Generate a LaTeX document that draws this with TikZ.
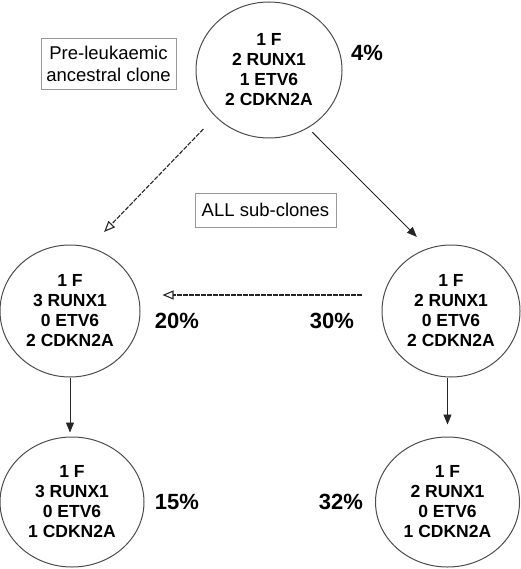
\documentclass[tikz,border=0pt]{standalone}
\usepackage{fontspec}
\setmainfont{Liberation Sans}
\usetikzlibrary{arrows.meta, positioning, calc, shapes.geometric}

\begin{document}
\begin{tikzpicture}[
    x=1pt, y=-1pt,
    % Styles for the clone circles, the notes and the arrows
    clone_node/.style={ellipse, draw=black!70, line width=1pt, inner sep=0pt, align=center, font=\fontsize{17.5}{20}\selectfont\bfseries},
    pct_lbl/.style={font=\fontsize{22}{24}\selectfont\bfseries, inner sep=0pt},
    note_box/.style={rectangle, draw=black!40, line width=0.8pt, align=center, inner sep=0pt, font=\fontsize{18.5}{22}\selectfont},
    solid_arr/.style={draw=black!85, line width=0.9pt, -{Triangle[length=10pt, width=8pt]}},
    open_arr/.style={draw=black!85, line width=1.1pt, dash pattern=on 4.5pt off 1.5pt, -{Triangle[open, length=11pt, width=9pt]}}
]
    \useasboundingbox (0,0) rectangle (520,569);

    % --- Clones ---
    \node[clone_node, minimum width=146pt, minimum height=136pt] (anc) at (269,70) {1 F\\2 RUNX1\\1 ETV6\\2 CDKN2A};
    \node[clone_node, minimum width=140pt, minimum height=132pt] (subL) at (70,311) {1 F\\3 RUNX1\\0 ETV6\\2 CDKN2A};
    \node[clone_node, minimum width=138pt, minimum height=132pt] (subR) at (451,311) {1 F\\2 RUNX1\\0 ETV6\\2 CDKN2A};
    \node[clone_node, minimum width=144pt, minimum height=130pt] (botL) at (72,502) {1 F\\3 RUNX1\\0 ETV6\\1 CDKN2A};
    \node[clone_node, minimum width=144pt, minimum height=130pt] (botR) at (447.5,502) {1 F\\2 RUNX1\\0 ETV6\\1 CDKN2A};

    % --- Percentages ---
    \node[pct_lbl] (p_anc) at ($(anc) + (98,-17)$) {4\%};
    \node[pct_lbl] (p_subL) at ($(subL) + (107,10)$) {20\%};
    \node[pct_lbl] (p_subR) at ($(subR) + (-119,10)$) {30\%};
    \node[pct_lbl] (p_botL) at ($(botL) + (105,0)$) {15\%};
    \node[pct_lbl] (p_botR) at ($(botR) + (-106.5,0)$) {32\%};

    % --- Notes ---
    \node[note_box, minimum width=135pt, minimum height=51pt] (pre) at (108.5,63.5) {Pre-leukaemic\\ancestral clone};
    \node[note_box, minimum width=141pt, minimum height=34pt] (all) at (265.5,210) {ALL sub-clones};

    % --- Arrows ---
    \draw[open_arr, shorten <=17pt, shorten >=21pt] (anc.221) -- (subL.73);
    \draw[solid_arr, shorten <=6pt, shorten >=16pt] (anc.304) -- (subR.110);
    \draw[open_arr, shorten <=20pt, shorten >=22pt] ([yshift=16pt]subR.west) -- ([yshift=16pt]subL.east);
    \draw[solid_arr, shorten >=4pt] (subL.south) -- (subL.south |- botL.north);
    \draw[solid_arr, shorten >=12pt] (botR.north |- subR.south) -- (botR.north);

\end{tikzpicture}
\end{document}
